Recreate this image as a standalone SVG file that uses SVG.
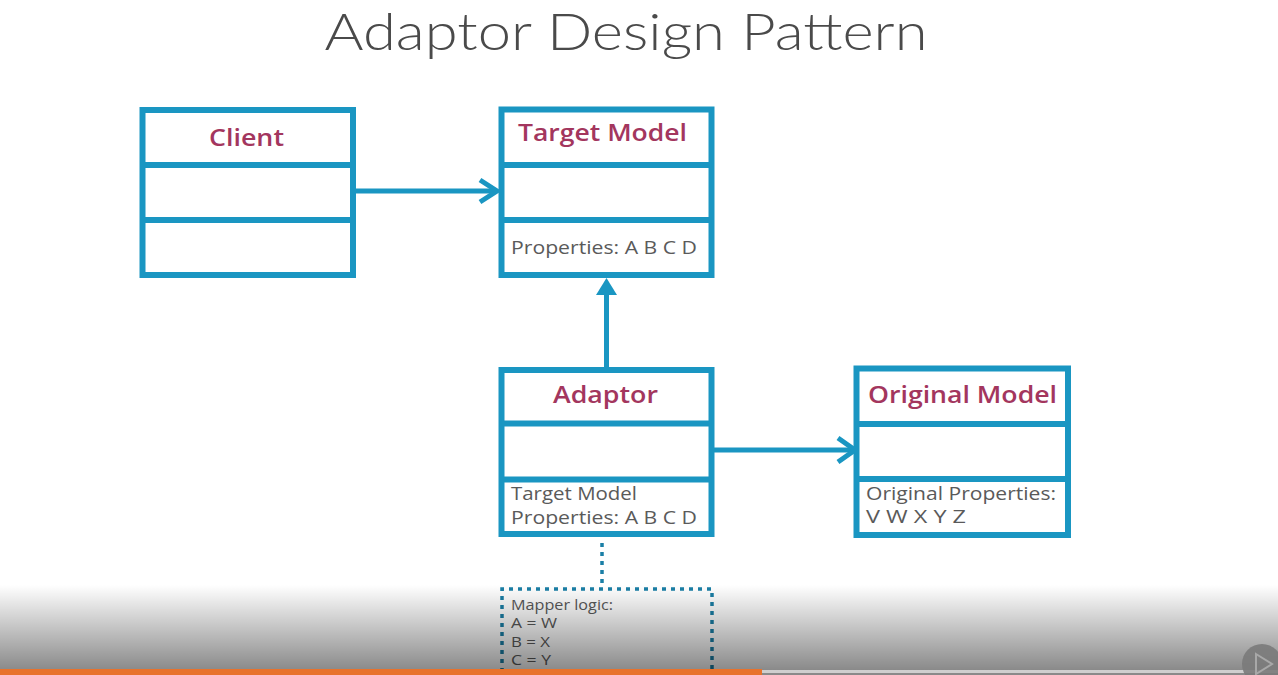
<svg xmlns="http://www.w3.org/2000/svg" width="1278" height="675" viewBox="0 0 1278 675">
<defs>
<style>
.box{fill:#fff;stroke:#1a96c2;stroke-width:6}
.div{stroke:#1a96c2;stroke-width:6}
.conn{stroke:#1a96c2;stroke-width:5;fill:none}
.head{stroke:#1a96c2;stroke-width:5;fill:none;stroke-linecap:butt;stroke-linejoin:miter}
.dot{stroke:#1a7fa6;stroke-width:3.5;fill:none;stroke-dasharray:4 5}
.title{font-family:"Open Sans","Lato",sans-serif;font-weight:600;font-size:24px;fill:#a3365e;text-anchor:middle}
.prop{font-family:"Open Sans","Lato",sans-serif;font-weight:500;font-size:18px;fill:#5a5a5a}
.small{font-family:"Open Sans","Lato",sans-serif;font-weight:500;font-size:14px;fill:#5a5a5a}
</style>
<linearGradient id="shade" x1="0" y1="0" x2="0" y2="1">
<stop offset="0" stop-color="#000" stop-opacity="0"/>
<stop offset="1" stop-color="#000" stop-opacity="0.46"/>
</linearGradient>
</defs>
<rect width="1278" height="675" fill="#fff"/>
<text x="626" y="50" font-family="Lato, 'Open Sans', sans-serif" font-weight="300" font-size="51" fill="#4a4a4a" text-anchor="middle" textLength="603" lengthAdjust="spacingAndGlyphs">Adaptor Design Pattern</text>

<g id="connectors">
<line class="conn" x1="356" y1="191" x2="494" y2="191"/>
<polyline class="head" points="480,180 497,191 480,202"/>
<line class="conn" x1="606.5" y1="293" x2="606.5" y2="367"/>
<polygon points="606.5,278 596,295 617,295" fill="#1a96c2"/>
<line class="conn" x1="714" y1="450" x2="852" y2="450"/>
<polyline class="head" points="838,438 855,450 838,462"/>
<line class="dot" x1="602" y1="543" x2="602" y2="588"/>
</g>

<g id="client">
<rect class="box" x="142.5" y="110" width="210.5" height="165"/>
<line class="div" x1="142.5" y1="165" x2="353" y2="165"/>
<line class="div" x1="142.5" y1="220" x2="353" y2="220"/>
<text class="title" x="246.5" y="146" textLength="75" lengthAdjust="spacingAndGlyphs">Client</text>
</g>

<g id="target">
<rect class="box" x="501.5" y="109.5" width="210" height="165.5"/>
<line class="div" x1="501.5" y1="165" x2="711.5" y2="165"/>
<line class="div" x1="501.5" y1="220" x2="711.5" y2="220"/>
<text class="title" x="602.5" y="141" textLength="169" lengthAdjust="spacingAndGlyphs">Target Model</text>
<text class="prop" x="511" y="254" textLength="186" lengthAdjust="spacingAndGlyphs">Properties: A B C D</text>
</g>

<g id="adaptor">
<rect class="box" x="501.5" y="370" width="210" height="164"/>
<line class="div" x1="501.5" y1="423.5" x2="711.5" y2="423.5"/>
<line class="div" x1="501.5" y1="479.5" x2="711.5" y2="479.5"/>
<text class="title" x="605.5" y="403" textLength="105" lengthAdjust="spacingAndGlyphs">Adaptor</text>
<text class="prop" x="511" y="500" textLength="126" lengthAdjust="spacingAndGlyphs">Target Model</text>
<text class="prop" x="511" y="524" textLength="186" lengthAdjust="spacingAndGlyphs">Properties: A B C D</text>
</g>

<g id="original">
<rect class="box" x="856.5" y="368.5" width="211.5" height="166.5"/>
<line class="div" x1="856.5" y1="424" x2="1068" y2="424"/>
<line class="div" x1="856.5" y1="479" x2="1068" y2="479"/>
<text class="title" x="962.5" y="403" textLength="189" lengthAdjust="spacingAndGlyphs">Original Model</text>
<text class="prop" x="866" y="500" textLength="190" lengthAdjust="spacingAndGlyphs">Original Properties:</text>
<text class="prop" x="866" y="523" textLength="100" lengthAdjust="spacingAndGlyphs">V W X Y Z</text>
</g>

<g id="mapper">
<polyline class="dot" points="502,690 502,589 712,589 712,690"/>
<text class="small" x="511" y="610" textLength="102" lengthAdjust="spacingAndGlyphs">Mapper logic:</text>
<text class="small" x="511" y="628" textLength="46" lengthAdjust="spacingAndGlyphs">A = W</text>
<text class="small" x="511" y="647" textLength="39" lengthAdjust="spacingAndGlyphs">B = X</text>
<text class="small" x="511" y="665" textLength="40" lengthAdjust="spacingAndGlyphs">C = Y</text>
</g>

<rect x="0" y="585" width="1278" height="85" fill="url(#shade)"/>
<rect x="0" y="670" width="1278" height="5" fill="#8a8a8a"/>
<rect x="762" y="670" width="516" height="3" fill="#cfcfcf"/>
<rect x="0" y="669" width="762" height="6" fill="#e8722c"/>
<circle cx="1262" cy="664" r="20" fill="#7a7a7a" opacity="0.9"/>
<polygon points="1256,654 1272,664 1256,674" fill="none" stroke="#a8a8a8" stroke-width="2"/>
</svg>
